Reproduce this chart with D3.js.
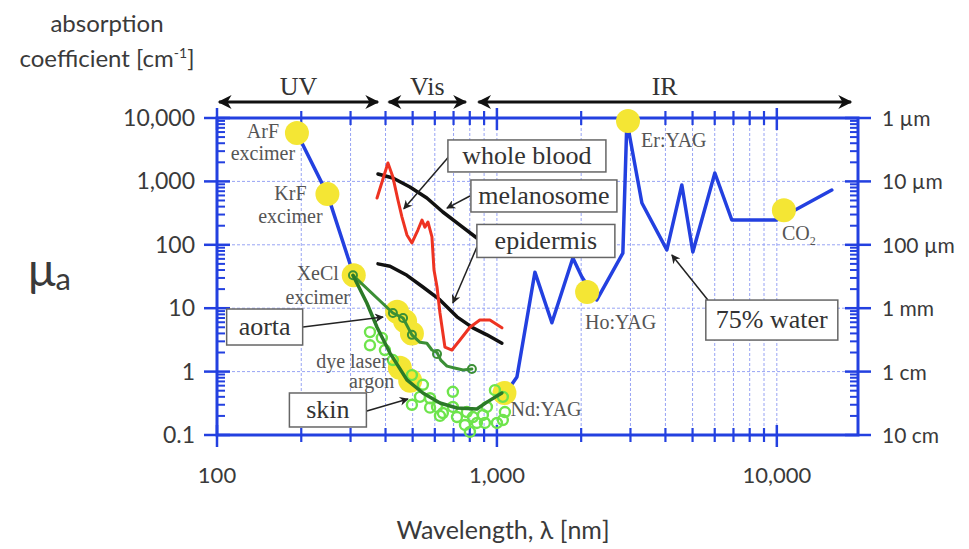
<!DOCTYPE html>
<html>
<head>
<meta charset="utf-8">
<style>
  body { margin: 0; background: #ffffff; }
  .sans { font-family: Lato, 'Open Sans', sans-serif; fill: #3a3a3a; }
  .serif { font-family: 'Liberation Serif', 'DejaVu Serif', serif; }
</style>
</head>
<body>
<div id="chart"></div>
<script src="https://cdn.jsdelivr.net/npm/d3@7/dist/d3.min.js"></script>
<script>
// ---- data (wavelength nm, absorption coefficient cm^-1) ----
var excimerLine = [[193, 5800], [248, 630], [308, 33]];
var waterLine = [[1090, 0.5], [1179, 0.82], [1367, 37], [1572, 5.9], [1868, 62], [2012, 31],
  [2275, 13.5], [2818, 74], [2913, 8970], [3296, 457], [4047, 83], [4578, 877], [5012, 77],
  [6006, 1357], [6906, 246], [10000, 246], [15720, 730]];
var bloodLine = [[373, 547], [408, 1950], [425, 1170], [443, 509], [458, 274], [477, 143],
  [497, 107], [522, 171], [540, 246], [553, 190], [567, 229], [586, 133], [596, 40],
  [611, 21.6], [626, 8.4], [652, 2.44], [691, 2.19], [738, 3.15], [801, 5.0], [869, 6.5],
  [944, 6.5], [1042, 4.9]];
var melanosomeLine = [[376, 1310], [425, 1130], [489, 817], [562, 548], [641, 329],
  [738, 205], [848, 128], [968, 89], [1050, 77]];
var epidermisLine = [[376, 50], [415, 46], [477, 33], [544, 21.6], [626, 13.5], [720, 7.3],
  [821, 4.9], [921, 3.8], [1042, 2.8]];
var aortaLine = [[306, 33], [425, 8.4], [462, 7.0], [497, 3.8], [531, 2.9], [562, 2.8],
  [586, 2.19], [611, 2.0], [630, 1.52], [663, 1.22], [705, 1.14], [757, 1.06], [814, 1.10]];
var aortaPoints = [[306, 33], [425, 8.4], [462, 7.0], [497, 3.8], [611, 1.9], [814, 1.10]];
var skinLine = [[306, 33], [343, 12.1], [373, 5.0], [415, 1.96], [477, 0.74], [544, 0.46],
  [626, 0.32], [720, 0.267], [848, 0.257], [921, 0.33], [1042, 0.46]];
var skinPoints = [[352, 4.2], [352, 2.6], [388, 3.4], [398, 2.19], [425, 1.52], [497, 0.88],
  [544, 0.62], [497, 0.30], [531, 0.40], [577, 0.38], [611, 0.277], [641, 0.222], [696, 0.48],
  [696, 0.277], [720, 0.192], [781, 0.23], [821, 0.192], [848, 0.155], [891, 0.207],
  [921, 0.277], [984, 0.51], [1050, 0.40], [1068, 0.23], [1050, 0.172], [1000, 0.155],
  [769, 0.144], [801, 0.112], [906, 0.155], [577, 0.27], [626, 0.2]];
var laserNames = ['ArF', 'KrF', 'XeCl', 'dye laser', 'argon', 'Nd:YAG', 'Ho:YAG', 'Er:YAG', 'CO2'];
var laserWavelengths = [193, 248, 308, 450, 490, 1064, 2100, 2940, 10600];
var laserValues = [5800, 630, 33, 1.15, 0.72, 0.46, 18, 9000, 350];
var tissueAorta = [[440, 8.8], [470, 6.2], [497, 4.0]];

var yMajor = [0.1, 1, 10, 100, 1000, 10000];
var yLabels = ['0.1', '1', '10', '100', '1,000', '10,000'];
var yRightLabels = ['10 cm', '1 cm', '1 mm', '100 \u00b5m', '10 \u00b5m', '1 \u00b5m'];
var xMajor = [100, 1000, 10000];
var xLabels = ['100', '1,000', '10,000'];
var regions = ['UV', 'Vis', 'IR'];
var regionFrom = [100, 404, 845];
var regionTo = [382, 787, 18700];

// ---- layout ----
var width = 969, height = 549;
var x = d3.scaleLog().domain([100, 19500]).range([217, 858]);
var y = d3.scaleLog().domain([0.1, 10000]).range([435, 118]);
var blue = '#2340e0';

var svg = d3.select('#chart').append('svg')
  .attr('width', width).attr('height', height);

var defs = svg.append('defs');
defs.append('marker').attr('id', 'bigHead')
  .attr('viewBox', '0 0 10 10').attr('refX', 9).attr('refY', 5)
  .attr('markerUnits', 'userSpaceOnUse').attr('markerWidth', 17).attr('markerHeight', 14)
  .attr('orient', 'auto-start-reverse')
  .append('path').attr('d', 'M0,0 L10,5 L0,10 L3,5 z').attr('fill', '#111');
defs.append('marker').attr('id', 'smallHead')
  .attr('viewBox', '0 0 10 10').attr('refX', 9).attr('refY', 5)
  .attr('markerUnits', 'userSpaceOnUse').attr('markerWidth', 11).attr('markerHeight', 9)
  .attr('orient', 'auto')
  .append('path').attr('d', 'M0,0 L10,5 L0,10 L3,5 z').attr('fill', '#222');

var minorX = [];
[100, 1000, 10000].forEach(function (d) {
  for (var k = 2; k <= 9; k++) if (d * k < 19500) minorX.push(d * k);
});
var minorY = [];
[0.1, 1, 10, 100, 1000].forEach(function (d) {
  for (var k = 2; k <= 9; k++) minorY.push(d * k);
});

// grid
var grid = svg.append('g').attr('stroke', '#98a4f4').attr('stroke-width', 1)
  .attr('stroke-dasharray', '3,2');
grid.selectAll('.vg').data(minorX.concat([1000, 10000])).enter().append('line')
  .attr('x1', function (d) { return x(d); }).attr('x2', function (d) { return x(d); })
  .attr('y1', y(10000)).attr('y2', y(0.1));
grid.selectAll('.hg').data([1, 10, 100, 1000]).enter().append('line')
  .attr('y1', function (d) { return y(d); }).attr('y2', function (d) { return y(d); })
  .attr('x1', x(100)).attr('x2', x(19500));

// frame
svg.append('rect').attr('x', x(100)).attr('y', y(10000))
  .attr('width', x(19500) - x(100)).attr('height', y(0.1) - y(10000))
  .attr('fill', 'none').attr('stroke', blue).attr('stroke-width', 3);

// ticks
var ticks = svg.append('g').attr('stroke', blue);
[y(0.1), y(10000)].forEach(function (yy) {
  ticks.selectAll(null).data(minorX).enter().append('line')
    .attr('stroke-width', 2.2)
    .attr('x1', function (d) { return x(d); }).attr('x2', function (d) { return x(d); })
    .attr('y1', yy - 7).attr('y2', yy + 7);
  ticks.selectAll(null).data(xMajor).enter().append('line')
    .attr('stroke-width', 2.5)
    .attr('x1', function (d) { return x(d); }).attr('x2', function (d) { return x(d); })
    .attr('y1', yy - 10).attr('y2', yy + 12);
});
[[x(100), 1], [x(19500), -1]].forEach(function (s) {
  ticks.selectAll(null).data(minorY).enter().append('line')
    .attr('stroke-width', 2)
    .attr('y1', function (d) { return y(d); }).attr('y2', function (d) { return y(d); })
    .attr('x1', s[0]).attr('x2', s[0] + s[1] * 8);
  ticks.selectAll(null).data(yMajor).enter().append('line')
    .attr('stroke-width', 2.5)
    .attr('y1', function (d) { return y(d); }).attr('y2', function (d) { return y(d); })
    .attr('x1', s[0] - 13).attr('x2', s[0] + 13);
});

// axis labels
svg.append('g').selectAll('text').data(yMajor).enter().append('text')
  .attr('class', 'sans').attr('font-size', 23).attr('text-anchor', 'end')
  .attr('x', 195).attr('y', function (d) { return y(d) + 8; })
  .text(function (d, i) { return yLabels[i]; });
svg.append('g').selectAll('text').data(yMajor).enter().append('text')
  .attr('class', 'sans').attr('font-size', 21)
  .attr('x', 882).attr('y', function (d) { return y(d) + 8; })
  .text(function (d, i) { return yRightLabels[i]; });
svg.append('g').selectAll('text').data(xMajor).enter().append('text')
  .attr('class', 'sans').attr('font-size', 22).attr('text-anchor', 'middle')
  .attr('x', function (d) { return x(d); }).attr('y', 483)
  .text(function (d, i) { return xLabels[i]; });

svg.append('text').attr('class', 'sans').attr('font-size', 25).attr('text-anchor', 'middle')
  .attr('x', 503).attr('y', 539).text('Wavelength, \u03bb [nm]');
svg.append('text').attr('class', 'sans').attr('font-size', 24).attr('text-anchor', 'middle')
  .attr('x', 107).attr('y', 32).text('absorption');
var coef = svg.append('text').attr('class', 'sans').attr('font-size', 24).attr('text-anchor', 'middle')
  .attr('x', 107).attr('y', 67);
coef.append('tspan').text('coefficient [cm');
coef.append('tspan').attr('font-size', 14).attr('dy', -9).text('-1');
coef.append('tspan').attr('dy', 9).text(']');
var mu = svg.append('text').attr('class', 'sans').attr('x', 28).attr('y', 286).attr('font-size', 46);
mu.append('tspan').text('\u03bc');
mu.append('tspan').attr('font-size', 31).attr('dy', 4).text('a');

// region arrows
var reg = svg.append('g');
reg.selectAll('line').data(regions).enter().append('line')
  .attr('x1', function (d, i) { return x(regionFrom[i]) + 2; })
  .attr('x2', function (d, i) { return x(regionTo[i]) - 2; })
  .attr('y1', 102).attr('y2', 102)
  .attr('stroke', '#111').attr('stroke-width', 3)
  .attr('marker-start', 'url(#bigHead)').attr('marker-end', 'url(#bigHead)');
reg.selectAll('text').data(regions).enter().append('text')
  .attr('class', 'serif').attr('font-size', 26).attr('fill', '#333').attr('text-anchor', 'middle')
  .attr('x', function (d, i) { return x(Math.sqrt(regionFrom[i] * regionTo[i])); })
  .attr('y', 95).text(function (d) { return d; });

// curves
var line = d3.line().x(function (d) { return x(d[0]); }).y(function (d) { return y(d[1]); });
function curve(data, color, w) {
  svg.append('path').datum(data).attr('d', line).attr('fill', 'none')
    .attr('stroke', color).attr('stroke-width', w)
    .attr('stroke-linejoin', 'round').attr('stroke-linecap', 'round');
}
curve(excimerLine, blue, 3.5);
curve(waterLine, blue, 3.5);

// laser lines (yellow dots)
svg.append('g').selectAll('circle').data(laserNames).enter().append('circle')
  .attr('cx', function (d, i) { return x(laserWavelengths[i]); })
  .attr('cy', function (d, i) { return y(laserValues[i]); })
  .attr('r', 12).attr('fill', '#f4e634');
svg.append('g').selectAll('circle').data(tissueAorta).enter().append('circle')
  .attr('cx', function (d) { return x(d[0]); }).attr('cy', function (d) { return y(d[1]); })
  .attr('r', 12).attr('fill', '#f4e634');

curve(melanosomeLine, '#111', 3.5);
curve(epidermisLine, '#111', 3.5);
curve(bloodLine, '#ee3322', 3);

svg.append('g').selectAll('circle').data(skinPoints).enter().append('circle')
  .attr('cx', function (d) { return x(d[0]); }).attr('cy', function (d) { return y(d[1]); })
  .attr('r', 5).attr('fill', 'none').attr('stroke', '#6ee44c').attr('stroke-width', 2.4);
curve(aortaLine, '#3b8f35', 3);
svg.append('g').selectAll('circle').data(aortaPoints).enter().append('circle')
  .attr('cx', function (d) { return x(d[0]); }).attr('cy', function (d) { return y(d[1]); })
  .attr('r', 4).attr('fill', 'none').attr('stroke', '#3b8f35').attr('stroke-width', 2);
curve(skinLine, '#2b7a28', 3.5);

// laser labels
var laserText = {
  'ArF': [[-34, 5, 'ArF'], [-34, 27, 'excimer']],
  'KrF': [[-37, 6, 'KrF'], [-37, 29, 'excimer']],
  'XeCl': [[-36, 5, 'XeCl'], [-36, 29, 'excimer']]
};
var lab = svg.append('g').attr('class', 'serif').attr('font-size', 20).attr('fill', '#555');
laserNames.forEach(function (n, i) {
  var cx = x(laserWavelengths[i]), cy = y(laserValues[i]);
  if (laserText[n]) {
    laserText[n].forEach(function (t) {
      lab.append('text').attr('text-anchor', 'middle').attr('x', cx + t[0]).attr('y', cy + t[1]).text(t[2]);
    });
  }
});
var simpleLabels = { 'dye laser': [-12, 0, 'end'], 'argon': [-16, 7, 'end'], 'Nd:YAG': [6, 23, 'start'],
  'Ho:YAG': [-2, 37, 'start'], 'Er:YAG': [13, 26, 'start'] };
laserNames.forEach(function (n, i) {
  var s = simpleLabels[n];
  if (!s) return;
  lab.append('text').attr('text-anchor', s[2])
    .attr('x', x(laserWavelengths[i]) + s[0]).attr('y', y(laserValues[i]) + s[1]).text(n);
});
var co2 = lab.append('text').attr('x', x(10600) - 2).attr('y', y(350) + 30).text('CO');
co2.append('tspan').attr('font-size', 12).attr('dy', 5).text('2');

// boxed annotations: [label, box centre, arrow start, arrow tip, box w, box h]
var notes = [
  ['whole blood', [1280, 2520], [691, 2800], [465, 370], 158, 32],
  ['melanosome', [1472, 589], [801, 589], [663, 380], 146, 32],
  ['epidermis', [1496, 115], [848, 92], [696, 12.1], 138, 33],
  ['aorta', [148, 5.05], [203, 5.05], [392, 7.26], 76, 36],
  ['skin', [249, 0.248], [343, 0.239], [481, 0.37], 77, 34],
  ['75% water', [9597, 6.5], [5671, 13.5], [4217, 69], 132, 40]
];
var ann = svg.append('g');
notes.forEach(function (n) {
  ann.append('line')
    .attr('x1', x(n[2][0])).attr('y1', y(n[2][1]))
    .attr('x2', x(n[3][0])).attr('y2', y(n[3][1]))
    .attr('stroke', '#222').attr('stroke-width', 1.5).attr('marker-end', 'url(#smallHead)');
  var cx = x(n[1][0]), cy = y(n[1][1]);
  ann.append('rect').attr('x', cx - n[4] / 2).attr('y', cy - n[5] / 2)
    .attr('width', n[4]).attr('height', n[5])
    .attr('fill', '#fff').attr('stroke', '#666').attr('stroke-width', 1.5);
  ann.append('text').attr('class', 'serif').attr('font-size', 26).attr('fill', '#333')
    .attr('text-anchor', 'middle').attr('x', cx).attr('y', cy + 8).text(n[0]);
});
</script>
</body>
</html>
